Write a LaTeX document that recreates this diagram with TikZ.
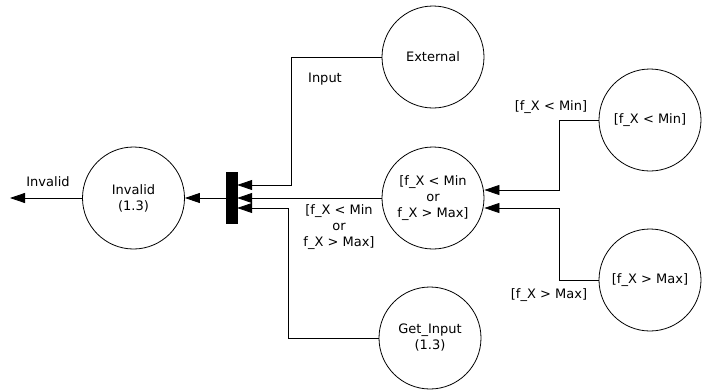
\documentclass[tikz,border=0pt]{standalone}
\usepackage{fontspec}
\setmainfont{DejaVu Sans}
\usetikzlibrary{arrows.meta}
\begin{document}
\begin{tikzpicture}[x=1pt,y=-1pt,
  every node/.style={font=\fontsize{13}{16}\selectfont},
  proc/.style={circle,draw,line width=0.8pt,minimum size=102pt,inner sep=0pt,align=center},
  conn/.style={line width=0.8pt},
  arr/.style={line width=0.8pt,-{Triangle[length=15pt,width=10pt]}},
  lbl/.style={align=center,inner sep=0pt}]
\useasboundingbox (0,0) rectangle (702,391);
% processes
\node[proc] (inv) at (133.5,198) {Invalid\\(1.3)};
\node[proc] (ext) at (433,57) {External};
\node[proc] (mid) at (433,198) {[f\_X < Min\\or\\f\_X > Max]};
\node[proc] (get) at (430,338) {Get\_Input\\(1.3)};
\node[proc] (rmin) at (650,120) {[f\_X < Min]};
\node[proc] (rmax) at (650,280) {[f\_X > Max]};
% join bar
\node[draw,fill=black,minimum width=11pt,minimum height=51pt,inner sep=0pt] (bar) at (231.5,197.5) {};
% bend points
\coordinate (j1) at (291,185);
\coordinate (j2) at (288,208);
\coordinate (j3) at (559,190);
\coordinate (j4) at (559,208);
\coordinate (out) at (10,198);
% connectors
\draw[arr] (ext.west) -| (j1) -- (j1 -| bar.east);
\draw[arr] (mid.west) -- (mid.west -| bar.east);
\draw[arr] (get.west) -| (j2) -- (j2 -| bar.east);
\draw[arr] (bar.west |- inv.east) -- (inv.east);
\draw[arr] (inv.west) -- (out);
\draw[arr] (rmin.west) -| (j3) -- (j3 -| mid.east);
\draw[arr] (rmax.west) -| (j4) -- (j4 -| mid.east);
% labels
\node[lbl] (l1) at (48,182) {Invalid};
\node[lbl] (l2) at (325,79) {Input};
\node[lbl] (l3) at (339,227) {[f\_X < Min\\or\\f\_X > Max]};
\node[lbl] (l4) at (551,107) {[f\_X < Min]};
\node[lbl] (l5) at (549,295) {[f\_X > Max]};
\end{tikzpicture}
\end{document}
